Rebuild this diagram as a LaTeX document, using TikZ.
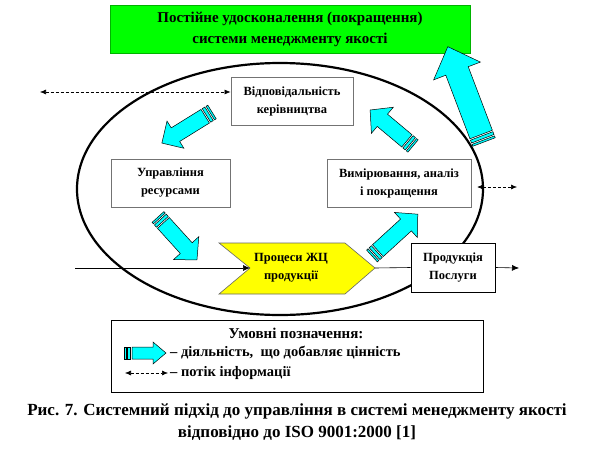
\documentclass[tikz,border=0pt]{standalone}
\usepackage{fontspec}
\setmainfont{Liberation Serif}
\usetikzlibrary{arrows.meta,calc,shapes.geometric}
\definecolor{valuecyan}{RGB}{0,255,255}
\definecolor{goalgreen}{RGB}{0,255,0}
\definecolor{lifeyellow}{RGB}{255,255,0}
% block arrow with striped tail: (tail)(angle:length:shaft half:head half:head length)
\def\valuearrow(#1)(#2:#3:#4:#5:#6){
  \begin{scope}[shift={(#1)},rotate=#2]
    \draw[valuefill] (0,-#4) rectangle (2,#4);
    \draw[valuefill] (3.5,-#4) rectangle (6.5,#4);
    \draw[valuefill] (8,-#4) -- ({#3-#6},-#4) -- ({#3-#6},-#5) -- (#3,0) -- ({#3-#6},#5) -- ({#3-#6},#4) -- (8,#4) -- cycle;
  \end{scope}}
\tikzset{
  valuefill/.style={draw=black, line width=0.5pt, fill=valuecyan, line join=miter},
  procbox/.style={draw=black!55, line width=0.9pt, fill=white, align=center, inner sep=2pt,
    font=\bfseries\fontsize{12.5}{18}\selectfont, minimum height=48pt},
  flow/.style={line width=0.6pt, -{Latex[length=7pt,width=6pt]}},
  info/.style={line width=0.6pt, dash pattern=on 3pt off 2pt,
    {Latex[length=6pt,width=5pt]}-{Latex[length=6pt,width=5pt]}}
}

\begin{document}
\begin{tikzpicture}[x=1pt,y=-1pt]
			%%%%% START %%%%%
			\useasboundingbox (0,0) rectangle (594,458);
			
			\node[fill=goalgreen, draw=goalgreen!70!black, minimum width=360pt, minimum height=48pt, align=center,
			  font=\bfseries\fontsize{15}{21}\selectfont] (goal) at (290,29)
			  {Постійне удосконалення (покращення)\\системи менеджменту якості};
			
			\node[draw, ellipse, line width=2.2pt, minimum width=406pt, minimum height=252pt, inner sep=0pt] (qms) at (280,189) {};
			
			\node[procbox, minimum width=122pt] (resp) at (292,101) {Відповідальність\\керівництва};
			\node[procbox, minimum width=119pt] (res) at (170.5,183) {Управління\\ресурсами};
			\node[procbox, minimum width=144pt] (meas) at (399,183) {Вимірювання, аналіз\\і покращення};
			
			\draw[fill=lifeyellow, draw=black!60, line width=0.6pt] (219,243) -- (345,243) -- (375,268) -- (345,294) -- (219,294) -- (250,268) -- cycle;
			\node[align=center, font=\bfseries\fontsize{12.5}{18}\selectfont] (life) at (291,268) {Процеси ЖЦ\\продукції};
			\coordinate (notch) at (250,268);
			\coordinate (lifetip) at (375,268);
			
			\node[procbox, draw=black, minimum width=84pt, minimum height=49pt] (prod) at (453,267.5) {Продукція\\Послуги};
			
			\coordinate (input) at (75,268);
			\coordinate (output) at (519,268);
			\draw[flow] (input) -- (notch);
			\draw[line width=0.6pt] (lifetip) -- (prod.west);
			\draw[flow] (prod.east) -- (output);
			
			\coordinate (infoL) at (40,92);
			\draw[info] (infoL) -- (infoL -| resp.west);
			\coordinate (infoR) at (517,187);
			\draw[info] ($(qms.east)+(-7,-2)$) -- (infoR);
			
			\valuearrow(212,112)(211.8:59:8:16:16)
			\valuearrow(158,217)(-47.8:58:8:17:16)
			\valuearrow(372,256)(42.4:62:8:17:16)
			\valuearrow(413,146)(140:56:8:17:16)
			\valuearrow(484,142)(110.8:102:12:25:26)
			
			% legend
			\draw[line width=0.6pt] (111,320) rectangle (483,392);
			\node[font=\bfseries\fontsize{15}{18}\selectfont] (legtitle) at (296,333) {Умовні позначення:};
			\valuearrow(124,353)(0:42:6:11:13)
			\node[anchor=west, inner sep=0pt, font=\bfseries\fontsize{14.5}{18}\selectfont] (actlbl) at (170,353) {– діяльність,\ \ що добавляє цінність};
			\coordinate (infoA) at (125,373);
			\coordinate (infoB) at (168,373);
			\draw[info] (infoA) -- (infoB);
			\node[anchor=west, inner sep=0pt, font=\bfseries\fontsize{14.5}{18}\selectfont] (inflbl) at (170,373) {– потік інформації};
			
			\node[align=center, font=\bfseries\fontsize{17}{22}\selectfont] (caption) at (297,422)
			  {Рис. 7. Системний підхід до управління в системі менеджменту якості\\відповідно до ISO 9001:2000 [1]};
			%%%%% END %%%%%
\end{tikzpicture}
\end{document}
